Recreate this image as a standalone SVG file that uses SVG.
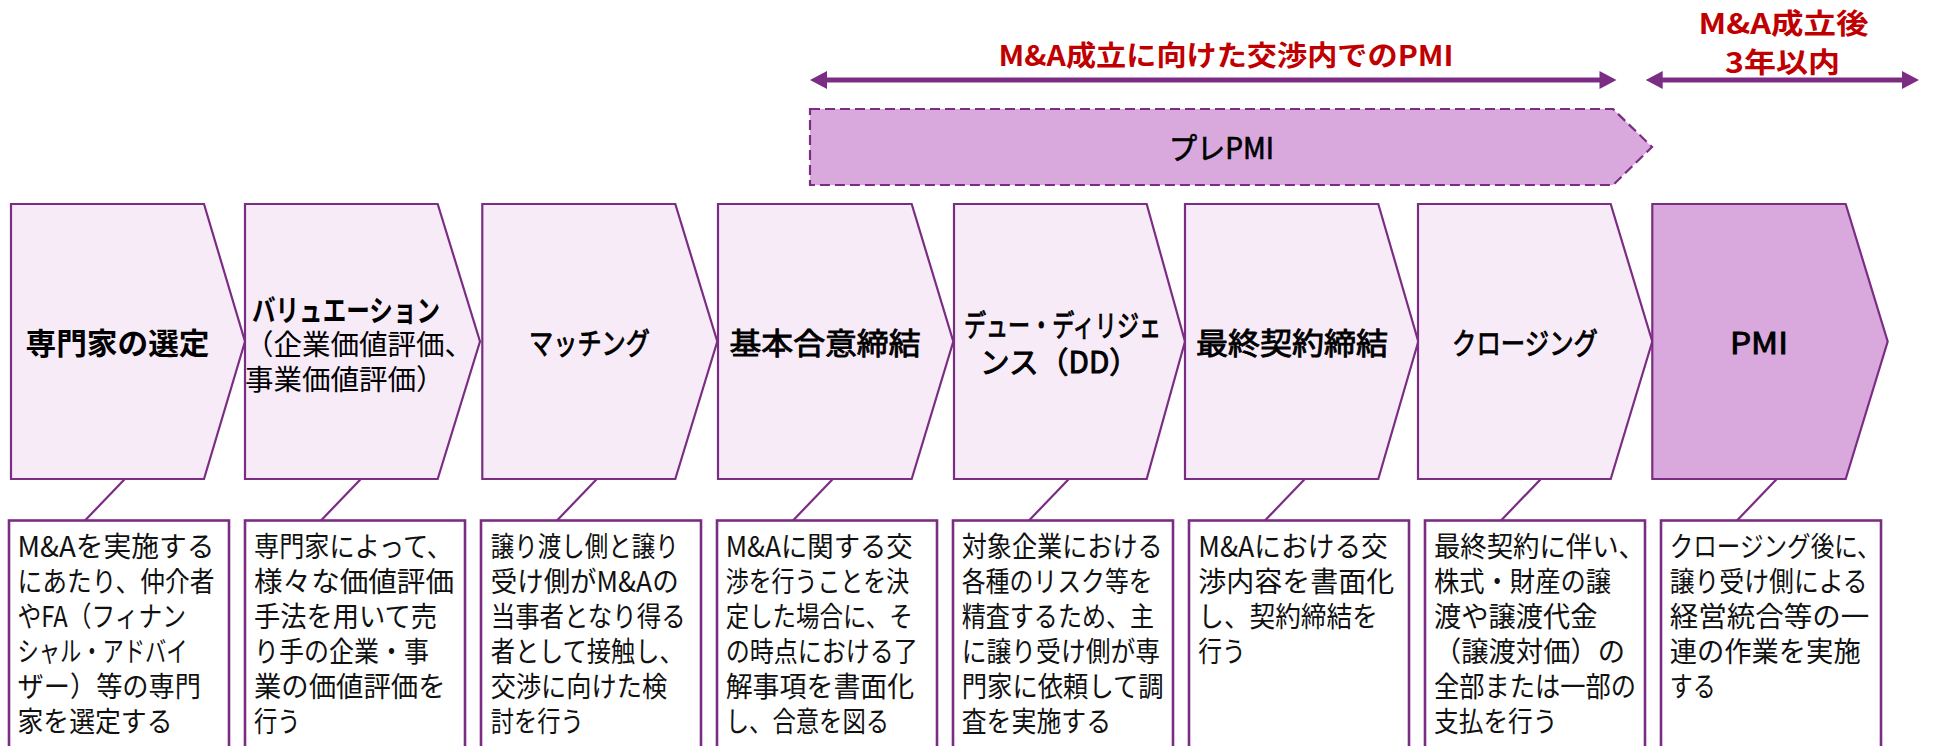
<svg xmlns="http://www.w3.org/2000/svg" width="1933" height="746" viewBox="0 0 1933 746">
<style>
  .chev { fill: #F7EBF8; stroke: #7B2D84; stroke-width: 2.2; stroke-linejoin: miter; }
  .chev-dark { fill: #D9A9DE; stroke: #7B2D84; stroke-width: 2.2; }
  .box { fill: #FFFFFF; stroke: #7B2D84; stroke-width: 2.6; }
  .lead { stroke: #7B2D84; stroke-width: 2.2; fill: none; }
  .arrow-line { stroke: #7B2D84; stroke-width: 5; fill: none; }
  .arrow-head { fill: #7B2D84; }
  .pre { fill: #D9A9DE; stroke: #7B2D84; stroke-width: 2.2; stroke-dasharray: 10 5; }
  text { font-family: "Noto Sans CJK JP", "Noto Sans", sans-serif; fill: #000; }
  .lbl-b { font-size: 30px; font-weight: bold; }
  .lbl-m { font-size: 30px; font-weight: normal; stroke: #000; stroke-width: 0.9; }
  .lbl-sub { font-size: 28.5px; font-weight: normal; }
  .body { font-size: 28px; font-weight: normal; fill: #111; }
  .red { font-size: 28px; font-weight: bold; fill: #C00000; }
  .pre-t { font-size: 30px; font-weight: normal; stroke: #000; stroke-width: 0.7; }
</style>

<g id="connectors">
  <line class="arrow-line" x1="824" y1="80" x2="1603" y2="80"/>
  <polygon class="arrow-head" points="810,80 827,71 827,89"/>
  <polygon class="arrow-head" points="1616.5,80 1599.5,71 1599.5,89"/>
  <line class="arrow-line" x1="1660" y1="80" x2="1905" y2="80"/>
  <polygon class="arrow-head" points="1645.7,80 1662.7,71 1662.7,89"/>
  <polygon class="arrow-head" points="1919,80 1902,71 1902,89"/>
  <line class="lead" x1="145" y1="458" x2="85" y2="520.5"/>
  <line class="lead" x1="381" y1="458" x2="321" y2="520.5"/>
  <line class="lead" x1="617" y1="458" x2="557" y2="520.5"/>
  <line class="lead" x1="853" y1="458" x2="793" y2="520.5"/>
  <line class="lead" x1="1089" y1="458" x2="1029" y2="520.5"/>
  <line class="lead" x1="1325" y1="458" x2="1265" y2="520.5"/>
  <line class="lead" x1="1561" y1="458" x2="1501" y2="520.5"/>
  <line class="lead" x1="1797" y1="458" x2="1737" y2="520.5"/>
</g>

<g id="header-negotiation">
  <text class="red" x="998.5" y="66" textLength="455" lengthAdjust="spacingAndGlyphs">M&amp;A成立に向けた交渉内でのPMI</text>
</g>
<g id="header-after">
  <text class="red" x="1698.5" y="33.5" textLength="170" lengthAdjust="spacingAndGlyphs">M&amp;A成立後</text>
  <text class="red" x="1725" y="72.5" textLength="115" lengthAdjust="spacingAndGlyphs">3年以内</text>
</g>

<g id="pre-pmi">
  <path class="pre" d="M810,109 H1613 L1652,147 L1613,185 H810 Z"/>
  <text class="pre-t" x="1169" y="158.5" textLength="105" lengthAdjust="spacingAndGlyphs">プレPMI</text>
</g>

<g id="step1">
  <polygon class="chev" points="11,204 204,204 245,341.5 204,479 11,479"/>
  <text class="lbl-b" x="25.5" y="354" textLength="184" lengthAdjust="spacingAndGlyphs">専門家の選定</text>
</g>
<g id="step2">
  <polygon class="chev" points="245,204 437.7,204 480,341.5 437.7,479 245,479"/>
  <text class="lbl-b" x="252" y="320.5" textLength="188" lengthAdjust="spacingAndGlyphs">バリュエーション</text>
  <text class="lbl-sub" x="245" y="355">（企業価値評価、</text>
  <text class="lbl-sub" x="245" y="390">事業価値評価）</text>
</g>
<g id="step3">
  <polygon class="chev" points="482.3,204 675.3,204 717.3,341.5 675.3,479 482.3,479"/>
  <text class="lbl-m" x="529" y="354" textLength="121" lengthAdjust="spacingAndGlyphs">マッチング</text>
</g>
<g id="step4">
  <polygon class="chev" points="718,204 911.7,204 953.3,341.5 911.7,479 718,479"/>
  <text class="lbl-m" x="729.5" y="354" textLength="191" lengthAdjust="spacingAndGlyphs">基本合意締結</text>
</g>
<g id="step5">
  <polygon class="chev" points="954,204 1146.7,204 1185,341.5 1146.7,479 954,479"/>
  <text class="lbl-m" x="964" y="335.5" textLength="197" lengthAdjust="spacingAndGlyphs">デュー・ディリジェ</text>
  <text class="lbl-m" x="980" y="372.5" textLength="159" lengthAdjust="spacingAndGlyphs">ンス（DD）</text>
</g>
<g id="step6">
  <polygon class="chev" points="1185,204 1378.3,204 1418.3,341.5 1378.3,479 1185,479"/>
  <text class="lbl-m" x="1196" y="354" textLength="192" lengthAdjust="spacingAndGlyphs">最終契約締結</text>
</g>
<g id="step7">
  <polygon class="chev" points="1418,204 1610.7,204 1652.3,341.5 1610.7,479 1418,479"/>
  <text class="lbl-m" x="1452" y="354" textLength="146" lengthAdjust="spacingAndGlyphs">クロージング</text>
</g>
<g id="step8">
  <polygon class="chev-dark" points="1652.3,204 1845.7,204 1887.7,341.5 1845.7,479 1652.3,479"/>
  <text class="lbl-m" x="1730" y="354" textLength="58" lengthAdjust="spacingAndGlyphs">PMI</text>
</g>

<g id="desc1">
  <rect class="box" x="9" y="520.5" width="220" height="250"/>
  <text class="body" x="17.5" y="556.5" textLength="197" lengthAdjust="spacingAndGlyphs">M&amp;Aを実施する</text>
  <text class="body" x="17.5" y="591.5" textLength="197" lengthAdjust="spacingAndGlyphs">にあたり、仲介者</text>
  <text class="body" x="17.5" y="626.5" textLength="168.5" lengthAdjust="spacingAndGlyphs">やFA（フィナン</text>
  <text class="body" x="17.5" y="661.5" textLength="170" lengthAdjust="spacingAndGlyphs">シャル・アドバイ</text>
  <text class="body" x="17.5" y="696.5" textLength="183.5" lengthAdjust="spacingAndGlyphs">ザー）等の専門</text>
  <text class="body" x="17.5" y="731.5" textLength="155" lengthAdjust="spacingAndGlyphs">家を選定する</text>
</g>
<g id="desc2">
  <rect class="box" x="245" y="520.5" width="220" height="250"/>
  <text class="body" x="254" y="556.5" textLength="198" lengthAdjust="spacingAndGlyphs">専門家によって、</text>
  <text class="body" x="254" y="591.5" textLength="200" lengthAdjust="spacingAndGlyphs">様々な価値評価</text>
  <text class="body" x="254" y="626.5" textLength="183" lengthAdjust="spacingAndGlyphs">手法を用いて売</text>
  <text class="body" x="254" y="661.5" textLength="175" lengthAdjust="spacingAndGlyphs">り手の企業・事</text>
  <text class="body" x="254" y="696.5" textLength="191.5" lengthAdjust="spacingAndGlyphs">業の価値評価を</text>
  <text class="body" x="254" y="731.5" textLength="46.5" lengthAdjust="spacingAndGlyphs">行う</text>
</g>
<g id="desc3">
  <rect class="box" x="481" y="520.5" width="220" height="250"/>
  <text class="body" x="490.7" y="556.5" textLength="188" lengthAdjust="spacingAndGlyphs">譲り渡し側と譲り</text>
  <text class="body" x="490.7" y="591.5" textLength="188" lengthAdjust="spacingAndGlyphs">受け側がM&amp;Aの</text>
  <text class="body" x="490.7" y="626.5" textLength="195" lengthAdjust="spacingAndGlyphs">当事者となり得る</text>
  <text class="body" x="490.7" y="661.5" textLength="193" lengthAdjust="spacingAndGlyphs">者として接触し、</text>
  <text class="body" x="490.7" y="696.5" textLength="176.5" lengthAdjust="spacingAndGlyphs">交渉に向けた検</text>
  <text class="body" x="490.7" y="731.5" textLength="93" lengthAdjust="spacingAndGlyphs">討を行う</text>
</g>
<g id="desc4">
  <rect class="box" x="717" y="520.5" width="220" height="250"/>
  <text class="body" x="725.7" y="556.5" textLength="187" lengthAdjust="spacingAndGlyphs">M&amp;Aに関する交</text>
  <text class="body" x="725.7" y="591.5" textLength="183.5" lengthAdjust="spacingAndGlyphs">渉を行うことを決</text>
  <text class="body" x="725.7" y="626.5" textLength="187" lengthAdjust="spacingAndGlyphs">定した場合に、そ</text>
  <text class="body" x="725.7" y="661.5" textLength="192" lengthAdjust="spacingAndGlyphs">の時点における了</text>
  <text class="body" x="725.7" y="696.5" textLength="188.5" lengthAdjust="spacingAndGlyphs">解事項を書面化</text>
  <text class="body" x="725.7" y="731.5" textLength="163.5" lengthAdjust="spacingAndGlyphs">し、合意を図る</text>
</g>
<g id="desc5">
  <rect class="box" x="953" y="520.5" width="220" height="250"/>
  <text class="body" x="961.7" y="556.5" textLength="201" lengthAdjust="spacingAndGlyphs">対象企業における</text>
  <text class="body" x="961.7" y="591.5" textLength="191" lengthAdjust="spacingAndGlyphs">各種のリスク等を</text>
  <text class="body" x="961.7" y="626.5" textLength="192.5" lengthAdjust="spacingAndGlyphs">精査するため、主</text>
  <text class="body" x="961.7" y="661.5" textLength="198.5" lengthAdjust="spacingAndGlyphs">に譲り受け側が専</text>
  <text class="body" x="961.7" y="696.5" textLength="202" lengthAdjust="spacingAndGlyphs">門家に依頼して調</text>
  <text class="body" x="961.7" y="731.5" textLength="149.5" lengthAdjust="spacingAndGlyphs">査を実施する</text>
</g>
<g id="desc6">
  <rect class="box" x="1189" y="520.5" width="220" height="250"/>
  <text class="body" x="1198.3" y="556.5" textLength="189.5" lengthAdjust="spacingAndGlyphs">M&amp;Aにおける交</text>
  <text class="body" x="1198.3" y="591.5" textLength="196" lengthAdjust="spacingAndGlyphs">渉内容を書面化</text>
  <text class="body" x="1198.3" y="626.5" textLength="179.5" lengthAdjust="spacingAndGlyphs">し、契約締結を</text>
  <text class="body" x="1198.3" y="661.5" textLength="47.5" lengthAdjust="spacingAndGlyphs">行う</text>
</g>
<g id="desc7">
  <rect class="box" x="1425" y="520.5" width="220" height="250"/>
  <text class="body" x="1434" y="556.5" textLength="211" lengthAdjust="spacingAndGlyphs">最終契約に伴い、</text>
  <text class="body" x="1434" y="591.5" textLength="177" lengthAdjust="spacingAndGlyphs">株式・財産の譲</text>
  <text class="body" x="1434" y="626.5" textLength="163.5" lengthAdjust="spacingAndGlyphs">渡や譲渡代金</text>
  <text class="body" x="1434" y="661.5" textLength="191" lengthAdjust="spacingAndGlyphs">（譲渡対価）の</text>
  <text class="body" x="1434" y="696.5" textLength="202" lengthAdjust="spacingAndGlyphs">全部または一部の</text>
  <text class="body" x="1434" y="731.5" textLength="123.5" lengthAdjust="spacingAndGlyphs">支払を行う</text>
</g>
<g id="desc8">
  <rect class="box" x="1661" y="520.5" width="220" height="250"/>
  <text class="body" x="1669.7" y="556.5" textLength="211" lengthAdjust="spacingAndGlyphs">クロージング後に、</text>
  <text class="body" x="1669.7" y="591.5" textLength="198" lengthAdjust="spacingAndGlyphs">譲り受け側による</text>
  <text class="body" x="1669.7" y="626.5" textLength="199.5" lengthAdjust="spacingAndGlyphs">経営統合等の一</text>
  <text class="body" x="1669.7" y="661.5" textLength="191" lengthAdjust="spacingAndGlyphs">連の作業を実施</text>
  <text class="body" x="1669.7" y="696.5" textLength="46" lengthAdjust="spacingAndGlyphs">する</text>
</g>
</svg>
